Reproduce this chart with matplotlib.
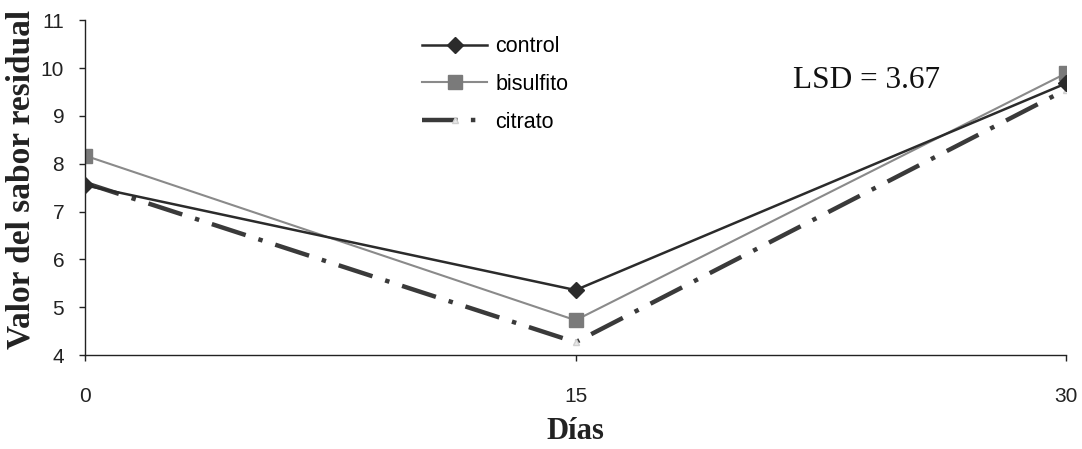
import matplotlib
matplotlib.use("Agg")
import matplotlib.pyplot as plt

days = [0, 15, 30]
control = [7.55, 5.36, 9.68]
bisulfito = [8.17, 4.73, 9.89]
citrato = [7.6, 4.27, 9.55]
yticks = [4, 5, 6, 7, 8, 9, 10, 11]
xticks = [0, 15, 30]

fig = plt.figure(figsize=(10.82, 4.49), dpi=100)
ax = fig.add_axes([0.0786, 0.209, 0.9067, 0.746])

ax.plot(days, control, color="#2b2b2b", lw=1.8, marker="D", ms=8, label="control", zorder=3)
ax.plot(days, bisulfito, color="#8a8a8a", lw=1.5, marker="s", ms=10,
        markerfacecolor="#7a7a7a", markeredgecolor="#7a7a7a", label="bisulfito", zorder=2)
ax.plot(days, citrato, color="#3a3a3a", lw=3.2, dashes=(8, 3, 1, 3), marker="^", ms=5,
        markerfacecolor="#e8e8e8", markeredgecolor="#d0d0d0", label="citrato", zorder=1)

ax.set_xlim(0, 30)
ax.set_ylim(4, 11)
ax.set_xticks(xticks)
ax.set_yticks(yticks)
for s in ["top", "right"]:
    ax.spines[s].set_visible(False)
for s in ["left", "bottom"]:
    ax.spines[s].set_color("#222222")
    ax.spines[s].set_linewidth(1.0)
ax.tick_params(direction="out", length=4, width=1.0, colors="#222222",
               labelsize=15, labelcolor="#222222")
for lab in ax.get_xticklabels() + ax.get_yticklabels():
    lab.set_family("Liberation Sans")
ax.tick_params(axis="x", pad=19)
ax.tick_params(axis="y", pad=11)

ax.set_ylabel("Valor del sabor residual", family="Liberation Serif", fontweight="bold",
              fontsize=24, color="#222222")
ax.yaxis.set_label_coords(-0.049, 0.525)
ax.set_xlabel("Días", family="Liberation Serif", fontweight="bold",
              fontsize=22, color="#222222", labelpad=8)

ax.text(0.722, 0.82, "LSD = 3.67", transform=ax.transAxes, family="Liberation Serif",
        fontsize=22.5, color="#111111", va="center")

leg = ax.legend(loc="upper left", bbox_to_anchor=(0.324, 1.01), frameon=False,
                handlelength=3.0, labelspacing=0.78, handletextpad=0.4,
                prop={"family": "Liberation Sans", "size": 15.5})

fig.savefig("out.png", dpi=100)
